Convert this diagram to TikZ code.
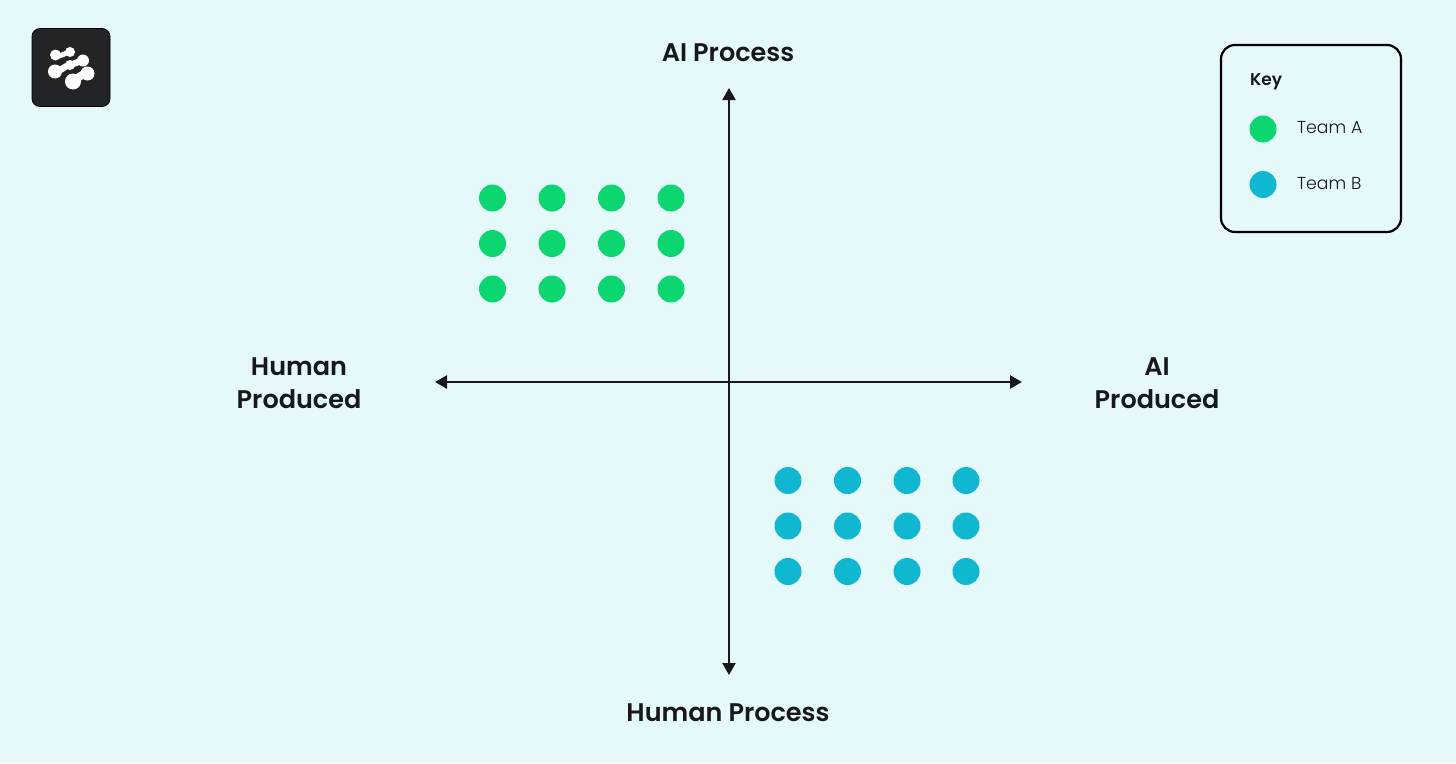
\documentclass[tikz,border=0pt]{standalone}
\usepackage{fontspec}
\setmainfont{Poppins}
\newfontfamily\headfont{Poppins SemiBold}
\newfontfamily\keyfont{Poppins Light}
\usetikzlibrary{arrows.meta}
\definecolor{bgc}{HTML}{E5F8FA}
\definecolor{inkc}{HTML}{16181C}
\definecolor{teamA}{HTML}{0CD670}
\definecolor{teamB}{HTML}{10B7D1}
\definecolor{logoc}{HTML}{222428}
\tikzset{
  x=1pt,y=-1pt,
  axis/.style={draw=inkc,line width=2.3pt,{Triangle[length=12pt,width=13pt]}-{Triangle[length=12pt,width=13pt]}},
  axislabel/.style={font=\headfont\fontsize{25.5}{33}\selectfont,text=inkc,align=center,inner sep=0pt},
  dotA/.style={circle,fill=teamA,minimum size=27pt,inner sep=0pt},
  dotB/.style={circle,fill=teamB,minimum size=27pt,inner sep=0pt},
  keytext/.style={font=\keyfont\fontsize{17.3}{22}\selectfont,text=inkc,anchor=west,inner sep=0pt},
  blob/.style={draw=white,line cap=round,line join=round},
}
\begin{document}
\begin{tikzpicture}
\useasboundingbox (0,0) rectangle (1456,763);
\fill[bgc] (0,0) rectangle (1456,763);
% logo
\node[draw=black,fill=logoc,rounded corners=8pt,line width=0.8pt,minimum size=78pt,inner sep=0pt] (logo) at (71,67.5) {};
\draw[blob,line width=5pt] (55,55.5) .. controls (62,57) and (64,53) .. (70,52);
\fill[white] (55.5,55) circle (5.5) (70,52) circle (5);
\draw[blob,line width=6.5pt] (55,71.5) .. controls (62,71) and (63,66.5) .. (70,65) .. controls (74,64) and (77,62) .. (83,60.5);
\fill[white] (55,71.5) circle (7) (70,65) circle (5) (83,60.5) circle (6);
\draw[blob,line width=8pt] (73,81.5) .. controls (78,78) and (80,75) .. (87,73.5);
\fill[white] (73,81.5) circle (8) (87.5,73.5) circle (7);
% axes
\coordinate (left) at (435,382);
\coordinate (right) at (1022,382);
\coordinate (top) at (729,88);
\coordinate (bottom) at (729,675);
\draw[axis] (left) -- (right);
\draw[axis] (top) -- (bottom);
% axis labels
\node[axislabel] (aiprocess) at (728,53) {AI Process};
\node[axislabel] (humanprocess) at (728,713) {Human Process};
\node[axislabel] (humanproduced) at (299,383) {Human\\Produced};
\node[axislabel] (aiproduced) at (1157,383) {AI\\Produced};
% team A dots
\foreach \i/\x in {1/492.5,2/552,3/611.5,4/671}
  \foreach \j/\y in {1/198,2/243.5,3/289}
    \node[dotA] (a\i\j) at (\x,\y) {};
% team B dots
\foreach \i/\x in {1/788,2/847.5,3/907,4/966}
  \foreach \j/\y in {1/480.5,2/526,3/571.5}
    \node[dotB] (b\i\j) at (\x,\y) {};
% key
\node[draw=black,line width=2.2pt,rounded corners=14pt,minimum width=180pt,minimum height=187pt,inner sep=0pt] (keybox) at (1311,138.5) {};
\node[keytext,font=\headfont\fontsize{17}{22}\selectfont] (keytitle) at (1250,81.5) {Key};
\node[dotA] (keyA) at (1263,129) {};
\node[dotB] (keyB) at (1263,184.5) {};
\node[keytext] (keyAt) at (1297,128) {Team A};
\node[keytext] (keyBt) at (1297,184) {Team B};
\end{tikzpicture}
\end{document}
